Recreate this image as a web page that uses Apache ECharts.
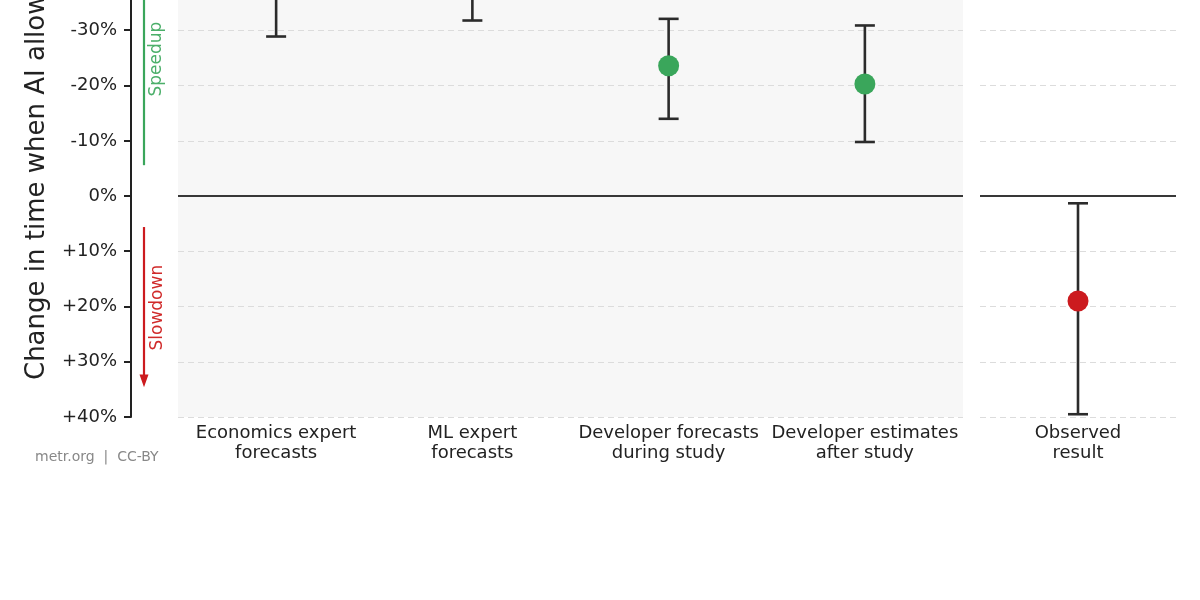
<!DOCTYPE html>
<html><head><meta charset="utf-8">
<script src="https://cdn.jsdelivr.net/npm/echarts@6/dist/echarts.min.js"></script>
<style>html,body{margin:0;padding:0;background:#fff}#c{width:1200px;height:600px}</style>
</head><body><div id="c"></div>
<script>
var forecastCategories = ['Economics expert\nforecasts', 'ML expert\nforecasts', 'Developer forecasts\nduring study', 'Developer estimates\nafter study'];
var forecastEstimate = [-39, -38, -23.6, -20.3];
var forecastUpper = [-52, -50, -32.1, -30.9];
var forecastLower = [-28.9, -31.8, -14.0, -9.8];
var observedCategories = ['Observed\nresult'];
var observedEstimate = [19.0];
var observedUpper = [1.3];
var observedLower = [39.5];
var yTicks = [-50, -40, -30, -20, -10, 0, 10, 20, 30, 40];

var FONT = 'DejaVu Sans';
var GREEN = '#3aa65b', RED = '#cc1b1f';

function pct(v){ return v > 0 ? '+' + v + '%' : v + '%'; }

function renderErr(params, api){
  var x = api.value(0), a = api.value(1), b = api.value(2);
  var p1 = api.coord([x, a]), p2 = api.coord([x, b]);
  var hw = 10;
  var st = {stroke: '#2b2b2b', lineWidth: 2.6};
  return {type: 'group', children: [
    {type: 'line', shape: {x1: p1[0], y1: p1[1], x2: p2[0], y2: p2[1]}, style: st},
    {type: 'line', shape: {x1: p1[0]-hw, y1: p1[1], x2: p1[0]+hw, y2: p1[1]}, style: st},
    {type: 'line', shape: {x1: p2[0]-hw, y1: p2[1], x2: p2[0]+hw, y2: p2[1]}, style: st}
  ]};
}

var zeroLine = {silent: true, symbol: 'none', label: {show: false},
  lineStyle: {color: '#383838', width: 1.8, type: 'solid'}, data: [{yAxis: 0}]};

var yBase = {
  type: 'value', inverse: true, min: yTicks[0], max: yTicks[yTicks.length-1], interval: 10,
  splitLine: {show: true, lineStyle: {color: '#dcdcdc', type: [6, 4], width: 1}}
};

var xLabel = {color: '#222', fontSize: 18, lineHeight: 20, margin: 6, fontFamily: FONT, interval: 0};

var chart = echarts.init(document.getElementById('c'));
chart.setOption({
  animation: false,
  textStyle: {fontFamily: FONT},
  title: {text: 'metr.org  |  CC-BY', left: 30, top: 445,
    textStyle: {fontFamily: FONT, fontSize: 14, fontWeight: 'normal', color: '#888'}},
  grid: [
    {left: 178, right: 237, top: -80, bottom: 183, show: true, backgroundColor: '#f7f7f7', borderWidth: 0,
      containLabel: false, outerBoundsMode: 'none'},
    {left: 980, right: 24, top: -80, bottom: 183, show: false, containLabel: false, outerBoundsMode: 'none'}
  ],
  xAxis: [
    {type: 'category', gridIndex: 0, data: forecastCategories,
      axisLine: {show: false}, axisTick: {show: false}, axisLabel: xLabel},
    {type: 'category', gridIndex: 1, data: observedCategories,
      axisLine: {show: false}, axisTick: {show: false}, axisLabel: xLabel}
  ],
  yAxis: [
    Object.assign({}, yBase, {gridIndex: 0, offset: 47,
      axisLine: {show: true, lineStyle: {color: '#222', width: 2}},
      axisTick: {show: false},
      axisLabel: {color: '#222', fontSize: 18, margin: 14, formatter: pct, fontFamily: FONT},
      name: 'Change in time when AI allowed', nameLocation: 'middle', nameGap: 81,
      nameTextStyle: {fontSize: 26, color: '#222', fontFamily: FONT, padding: [0, 4, 0, 0]}}),
    Object.assign({}, yBase, {gridIndex: 1,
      axisLine: {show: false}, axisTick: {show: false}, axisLabel: {show: false}})
  ],
  series: [
    {type: 'custom', xAxisIndex: 0, yAxisIndex: 0, renderItem: renderErr, z: 3,
      data: forecastCategories.map(function(c, i){ return [i, forecastUpper[i], forecastLower[i]]; }),
      markLine: zeroLine},
    {type: 'scatter', xAxisIndex: 0, yAxisIndex: 0, symbolSize: 21, z: 4,
      itemStyle: {color: GREEN, opacity: 1}, data: forecastEstimate.map(function(v, i){ return [i, v]; })},
    {type: 'custom', xAxisIndex: 1, yAxisIndex: 1, renderItem: renderErr, z: 3,
      data: observedCategories.map(function(c, i){ return [i, observedUpper[i], observedLower[i]]; }),
      markLine: zeroLine},
    {type: 'scatter', xAxisIndex: 1, yAxisIndex: 1, symbolSize: 21, z: 4,
      itemStyle: {color: RED, opacity: 1}, data: observedEstimate.map(function(v, i){ return [i, v]; })}
  ]
});

// ticks and direction annotations tied to the y scale
function py(v){ return chart.convertToPixel({yAxisIndex: 0}, v); }
var ax = 144, axisX = 131;
var gfx = yTicks.map(function(v){
  var y = Math.round(py(v));
  return {type: 'line', silent: true, shape: {x1: axisX - 7, y1: y, x2: axisX, y2: y},
    style: {stroke: '#222', lineWidth: 2}};
});
gfx = gfx.concat([
  {type: 'line', shape: {x1: ax, y1: py(-50), x2: ax, y2: py(-5.6)}, style: {stroke: GREEN, lineWidth: 2.2}, silent: true},
  {type: 'text', x: 157, y: py(-24.8), rotation: Math.PI/2,
    style: {text: 'Speedup', fill: '#4caf6a', font: '17px "' + FONT + '"', align: 'center', verticalAlign: 'middle'}},
  {type: 'line', shape: {x1: ax, y1: py(5.6), x2: ax, y2: py(32.5)}, style: {stroke: RED, lineWidth: 2.2}, silent: true},
  {type: 'polygon', shape: {points: [[ax-4.5, py(32.3)], [ax+4.5, py(32.3)], [ax, py(34.6)]]}, style: {fill: RED}, silent: true},
  {type: 'text', x: 158, y: py(20.2), rotation: Math.PI/2,
    style: {text: 'Slowdown', fill: '#d02a2a', font: '17px "' + FONT + '"', align: 'center', verticalAlign: 'middle'}}
]);
chart.setOption({graphic: gfx});
</script></body></html>
